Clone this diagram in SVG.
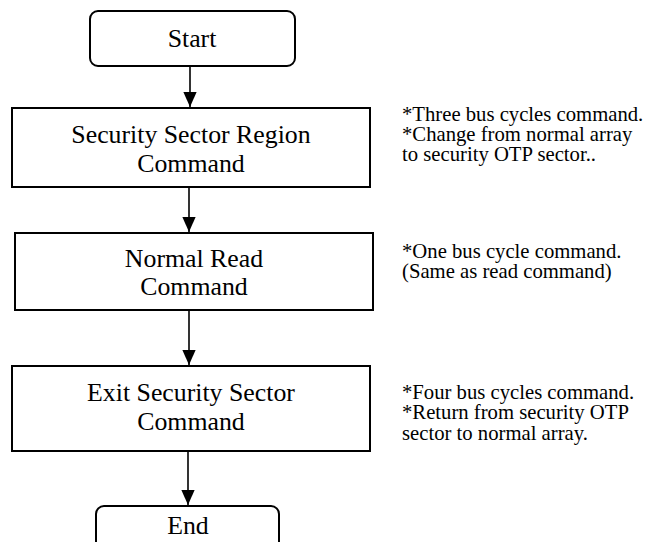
<svg xmlns="http://www.w3.org/2000/svg" width="645" height="542" viewBox="0 0 645 542">
<defs>
<style>
.box{fill:#fff;stroke:#000;stroke-width:2}
.t{font-family:"Liberation Serif","Times New Roman",Times,serif;font-size:25.8px;fill:#000;text-anchor:middle}
.n{font-family:"Liberation Serif","Times New Roman",Times,serif;font-size:20.7px;fill:#000}
.c{stroke:#000;stroke-width:1.6;fill:none;marker-end:url(#ah)}
</style>
<marker id="ah" markerWidth="15" markerHeight="17" refX="17" refY="7.5" orient="auto" markerUnits="userSpaceOnUse" viewBox="0 0 17 15">
<path d="M0,0 L17,7.5 L0,15 Z" fill="#000"/>
</marker>
</defs>
<rect width="645" height="542" fill="#fff"/>
<g id="connectors">
<line class="c" x1="190" y1="67" x2="190" y2="107"/>
<line class="c" x1="189" y1="188" x2="189" y2="232"/>
<line class="c" x1="189" y1="311" x2="189" y2="365"/>
<line class="c" x1="188" y1="451" x2="188" y2="505"/>
</g>
<g id="start">
<rect class="box" x="90" y="11" width="205" height="55" rx="8"/>
<text class="t" x="192" y="47">Start</text>
</g>
<g id="security-region">
<rect class="box" x="12" y="108" width="358" height="79"/>
<text class="t" x="191" y="143">Security Sector Region</text>
<text class="t" x="191" y="172">Command</text>
</g>
<g id="normal-read">
<rect class="box" x="15" y="233" width="358" height="77"/>
<text class="t" x="194" y="267">Normal Read</text>
<text class="t" x="194" y="295">Command</text>
</g>
<g id="exit-security">
<rect class="box" x="12" y="366" width="358" height="85"/>
<text class="t" x="191" y="401">Exit Security Sector</text>
<text class="t" x="191" y="430">Command</text>
</g>
<g id="end">
<rect class="box" x="96" y="506" width="183" height="50" rx="8"/>
<text class="t" x="188" y="534">End</text>
</g>
<g id="notes">
<text class="n" x="402" y="121">*Three bus cycles command.</text>
<text class="n" x="402" y="141">*Change from normal array</text>
<text class="n" x="402" y="161">to security OTP sector..</text>
<text class="n" x="402" y="258">*One bus cycle command.</text>
<text class="n" x="402" y="278">(Same as read command)</text>
<text class="n" x="402" y="399">*Four bus cycles command.</text>
<text class="n" x="402" y="419">*Return from security OTP</text>
<text class="n" x="402" y="440">sector to normal array.</text>
</g>
</svg>
